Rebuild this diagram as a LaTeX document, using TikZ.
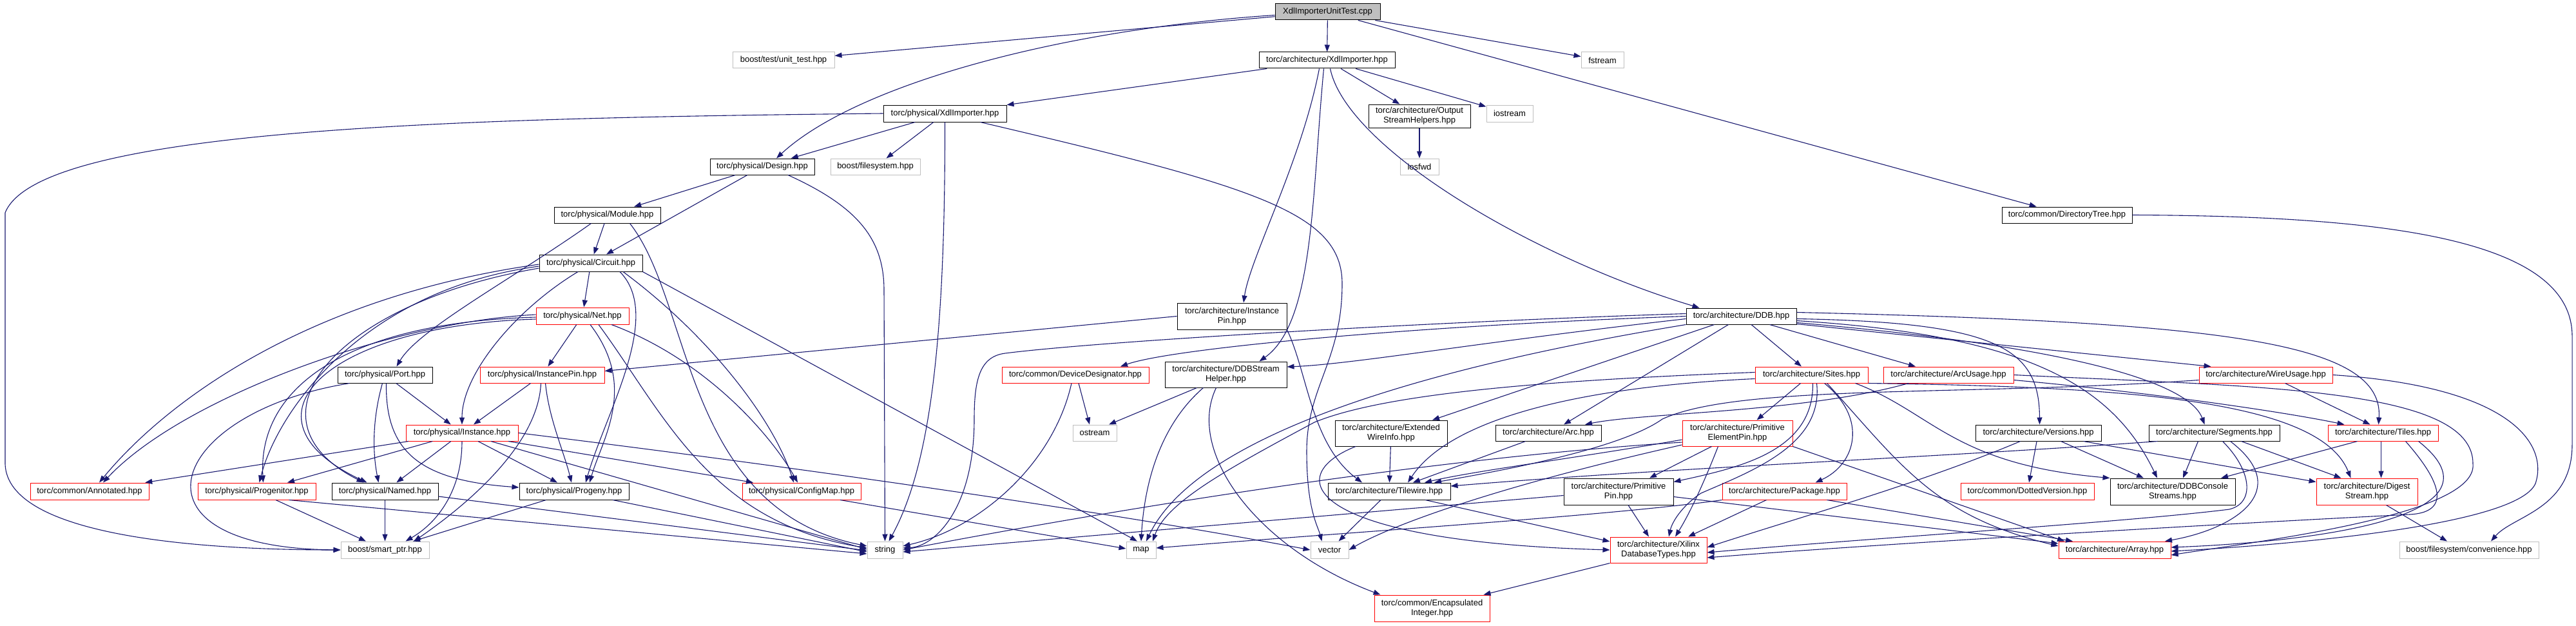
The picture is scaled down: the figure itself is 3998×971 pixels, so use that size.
\documentclass[tikz,border=0pt]{standalone}
\usepackage{fontspec}
\setmainfont{Liberation Sans}
\usetikzlibrary{arrows.meta}
\definecolor{edgec}{HTML}{191970}
\definecolor{rootfill}{HTML}{BFBFBF}
\definecolor{extc}{HTML}{BFBFBF}
\definecolor{redc}{HTML}{FF0000}
\tikzset{
  nbox/.style={rectangle, inner sep=0pt, line width=1.0pt, align=center, font=\fontsize{13}{15}\selectfont, text=black},
  bnode/.style={nbox, draw=black},
  rnode/.style={nbox, draw=redc},
  gnode/.style={nbox, draw=extc},
  rootnode/.style={nbox, draw=black, fill=rootfill},
  dep/.style={draw=edgec, line width=1.1pt, -{Triangle[length=11pt,width=8pt]}}
}
\newcommand{\mynode}[7]{\node[#6, minimum width=#4pt, minimum height=#5pt] (#1) at (#2,#3) {#7};}
\begin{document}
\begin{tikzpicture}[x=1pt,y=-1pt]
\fill[white] (0,0) rectangle (3998,971);
\useasboundingbox (0,0) rectangle (3998,971);
% nodes
\mynode{root}{2060.5}{18.5}{163}{25}{rootnode}{XdlImporterUnitTest.cpp}
\mynode{unittest}{1216}{93.5}{158}{25}{gnode}{boost/test/unit\_test.hpp}
\mynode{axdl}{2059.5}{93.5}{211}{25}{bnode}{torc/architecture/XdlImporter.hpp}
\mynode{fstream}{2487}{93.5}{66}{25}{gnode}{fstream}
\mynode{pxdl}{1466.5}{176}{191}{26}{bnode}{torc/physical/XdlImporter.hpp}
\mynode{osh}{2203}{180}{158}{36}{bnode}{torc/architecture/Output\\StreamHelpers.hpp}
\mynode{iostream}{2343}{176}{72}{26}{gnode}{iostream}
\mynode{design}{1183}{258.5}{162}{25}{bnode}{torc/physical/Design.hpp}
\mynode{bfs}{1358.5}{258.5}{139}{25}{gnode}{boost/filesystem.hpp}
\mynode{iosfwd}{2203}{258.5}{60}{25}{gnode}{iosfwd}
\mynode{module}{942.5}{333.5}{165}{25}{bnode}{torc/physical/Module.hpp}
\mynode{dirtree}{3208}{333.5}{202}{25}{bnode}{torc/common/DirectoryTree.hpp}
\mynode{circuit}{917}{408}{160}{26}{bnode}{torc/physical/Circuit.hpp}
\mynode{net}{904}{490}{144}{26}{rnode}{torc/physical/Net.hpp}
\mynode{ddb}{2702.5}{490.5}{171}{25}{bnode}{torc/architecture/DDB.hpp}
\mynode{ainstpin}{1912}{490.5}{170}{41}{bnode}{torc/architecture/Instance\\Pin.hpp}
\mynode{port}{597.5}{581.5}{147}{25}{bnode}{torc/physical/Port.hpp}
\mynode{pinstpin}{841.5}{581.5}{193}{25}{rnode}{torc/physical/InstancePin.hpp}
\mynode{devdes}{1669}{581.5}{228}{25}{rnode}{torc/common/DeviceDesignator.hpp}
\mynode{ddbsh}{1902.5}{581}{189}{40}{bnode}{torc/architecture/DDBStream\\Helper.hpp}
\mynode{sites}{2811.5}{581.5}{175}{25}{rnode}{torc/architecture/Sites.hpp}
\mynode{arcusage}{3024}{581.5}{202}{25}{rnode}{torc/architecture/ArcUsage.hpp}
\mynode{wireusage}{3516.5}{581.5}{207}{25}{rnode}{torc/architecture/WireUsage.hpp}
\mynode{instance}{717}{671.5}{174}{25}{rnode}{torc/physical/Instance.hpp}
\mynode{ostream}{1699}{671.5}{68}{25}{gnode}{ostream}
\mynode{ewi}{2159}{672}{174}{40}{bnode}{torc/architecture/Extended\\WireInfo.hpp}
\mynode{narc}{2403}{671.5}{164}{25}{bnode}{torc/architecture/Arc.hpp}
\mynode{pep}{2696.5}{672}{171}{40}{rnode}{torc/architecture/Primitive\\ElementPin.hpp}
\mynode{versions}{3163.5}{671.5}{195}{25}{bnode}{torc/architecture/Versions.hpp}
\mynode{segments}{3436.5}{671.5}{203}{25}{bnode}{torc/architecture/Segments.hpp}
\mynode{tiles}{3698.5}{671.5}{171}{25}{rnode}{torc/architecture/Tiles.hpp}
\mynode{annotated}{139}{762}{184}{26}{rnode}{torc/common/Annotated.hpp}
\mynode{progenitor}{398.5}{762}{183}{26}{rnode}{torc/physical/Progenitor.hpp}
\mynode{named}{597.5}{762}{165}{26}{bnode}{torc/physical/Named.hpp}
\mynode{progeny}{891}{762}{170}{26}{bnode}{torc/physical/Progeny.hpp}
\mynode{configmap}{1244}{762}{184}{26}{rnode}{torc/physical/ConfigMap.hpp}
\mynode{tilewire}{2156}{762}{190}{26}{bnode}{torc/architecture/Tilewire.hpp}
\mynode{ppin}{2512}{762.5}{170}{41}{bnode}{torc/architecture/Primitive\\Pin.hpp}
\mynode{package}{2769.5}{762}{193}{26}{rnode}{torc/architecture/Package.hpp}
\mynode{dotted}{3146.5}{762}{207}{26}{rnode}{torc/common/DottedVersion.hpp}
\mynode{ddbcs}{3372}{762.5}{194}{41}{bnode}{torc/architecture/DDBConsole\\Streams.hpp}
\mynode{digest}{3673.5}{762.5}{157}{41}{rnode}{torc/architecture/Digest\\Stream.hpp}
\mynode{smartptr}{597.5}{853}{137}{26}{gnode}{boost/smart\_ptr.hpp}
\mynode{nstring}{1373.5}{853}{55}{26}{gnode}{string}
\mynode{nmap}{1771}{853}{46}{26}{gnode}{map}
\mynode{nvector}{2063.5}{853}{59}{26}{gnode}{vector}
\mynode{xilinx}{2574}{853}{150}{40}{rnode}{torc/architecture/Xilinx\\DatabaseTypes.hpp}
\mynode{narray}{3282}{853}{174}{26}{rnode}{torc/architecture/Array.hpp}
\mynode{bfsconv}{3832}{853}{216}{26}{gnode}{boost/filesystem/convenience.hpp}
\mynode{encint}{2222.5}{943.5}{179}{41}{rnode}{torc/common/Encapsulated\\Integer.hpp}
% root
\draw[dep] (root) -- (unittest);
\draw[dep] ([yshift=-5pt]root.west) .. controls (1650,45) and (1330,130) .. ([xshift=22pt]design.north);
\draw[dep] (root) -- (axdl);
\draw[dep] (root) -- (fstream);
\draw[dep] (root) -- (dirtree);
% axdl
\draw[dep] (axdl) -- (pxdl);
\draw[dep] (axdl) -- (osh);
\draw[dep] (axdl) -- (iostream);
\draw[dep] ([xshift=5pt]axdl.south) .. controls (2090,230) and (2380,400) .. ([xshift=-65pt]ddb.north);
\draw[dep] ([xshift=-12pt]axdl.south) .. controls (2020,250) and (1940,400) .. ([xshift=18pt]ainstpin.north);
\draw[dep] ([xshift=-5pt]axdl.south) .. controls (2036,300) and (2040,500) .. ([xshift=52pt]ddbsh.north);
% pxdl
\draw[dep] (pxdl) -- (design);
\draw[dep] (pxdl) -- (bfs);
\draw[dep] (pxdl.south) .. controls (1467,520) and (1445,720) .. ([xshift=6pt]nstring.north);
\draw[dep] ([xshift=55pt]pxdl.south) .. controls (1950,290) and (2083,330) .. (2083,440) .. controls (2083,560) and (2028,600) .. (2028,700) .. controls (2028,790) and (2045,815) .. ([xshift=-12pt]nvector.north);
\draw[dep] (pxdl.west) .. controls (700,183) and (60,200) .. (8,330) -- (8,720) .. controls (12,830) and (300,853) .. (smartptr.west);
\draw[dep] (osh) -- (iosfwd);
% design, module
\draw[dep] (design) -- (module);
\draw[dep] (design) -- (circuit);
\draw[dep] ([xshift=40pt]design.south) .. controls (1330,320) and (1372,370) .. (1372,450) -- (nstring.north);
\draw[dep] (module) -- (circuit);
\draw[dep] ([xshift=-25pt]module.south) .. controls (800,430) and (650,510) .. ([xshift=18pt]port.north);
\draw[dep] ([xshift=35pt]module.south) .. controls (1075,470) and (1060,790) .. ([yshift=6pt]nstring.west);
% circuit
\draw[dep] (circuit) -- (net);
\draw[dep] ([xshift=-20pt]circuit.south) .. controls (800,480) and (717,580) .. (instance.north);
\draw[dep] ([yshift=-2pt]circuit.west) .. controls (480,460) and (260,620) .. ([xshift=15pt]annotated.north);
\draw[dep] ([yshift=-5pt]circuit.west) .. controls (560,450) and (430,640) .. ([xshift=4pt]progenitor.north);
\draw[dep] ([yshift=-8pt]circuit.west) .. controls (520,470) and (370,650) .. ([xshift=-33pt]named.north);
\draw[dep] ([xshift=45pt]circuit.south) .. controls (1030,490) and (940,640) .. ([xshift=18pt]progeny.north);
\draw[dep] ([xshift=50pt]circuit.south) .. controls (1100,520) and (1200,650) .. ([xshift=-12pt]configmap.north);
\draw[dep] (circuit.south east) -- ([xshift=-6pt]nmap.north);
% net
\draw[dep] ([yshift=2pt]net.west) .. controls (600,500) and (280,620) .. ([xshift=21pt]annotated.north);
\draw[dep] ([yshift=-2pt]net.west) .. controls (540,500) and (400,600) .. ([xshift=10pt]progenitor.north);
\draw[dep] ([yshift=-5pt]net.west) .. controls (500,505) and (360,650) .. ([xshift=-28pt]named.north);
\draw[dep] (net) -- (pinstpin);
\draw[dep] ([xshift=12pt]net.south) .. controls (990,600) and (935,680) .. ([xshift=24pt]progeny.north);
\draw[dep] ([xshift=45pt]net.south) .. controls (1100,560) and (1200,680) .. ([xshift=-6pt]configmap.north);
\draw[dep] ([xshift=25pt]net.south) .. controls (1030,640) and (1100,810) .. ([yshift=3pt]nstring.west);
% port
\draw[dep] (port) -- (instance);
\draw[dep] ([xshift=-4pt]port.south) .. controls (578,650) and (578,700) .. ([xshift=-10pt]named.north);
\draw[dep] ([xshift=2pt]port.south) .. controls (598,700) and (650,745) .. ([yshift=6pt]progeny.west);
\draw[dep] ([xshift=-55pt]port.south) .. controls (260,640) and (180,850) .. (smartptr.west);
% instance pin (physical)
\draw[dep] (pinstpin) -- (instance);
\draw[dep] ([xshift=5pt]pinstpin.south) .. controls (852,650) and (875,700) .. ([xshift=-4pt]progeny.north);
\draw[dep] ([xshift=-2pt]pinstpin.south) .. controls (835,700) and (700,800) .. ([xshift=45pt]smartptr.north);
% instance
\draw[dep] (instance) -- (annotated);
\draw[dep] (instance) -- (progenitor);
\draw[dep] (instance) -- (named);
\draw[dep] (instance.south) .. controls (717,760) and (680,810) .. ([xshift=32pt]smartptr.north);
\draw[dep] (instance) -- (progeny);
\draw[dep] ([xshift=45pt]instance.south) -- ([yshift=1pt]nstring.west);
\draw[dep] ([xshift=72pt]instance.south) -- ([xshift=-75pt]configmap.north);
\draw[dep] (instance.east) .. controls (1200,720) and (1700,790) .. (nvector.west);
% leaves of physical
\draw[dep] (progenitor) -- (smartptr);
\draw[dep] ([xshift=50pt]progenitor.south) -- ([yshift=-6pt]nstring.west);
\draw[dep] (named) -- (smartptr);
\draw[dep] ([yshift=-8pt]named.east) -- ([yshift=-1pt]nstring.west);
\draw[dep] (progeny) -- (smartptr);
\draw[dep] ([xshift=60pt]progeny.south) -- ([yshift=-3pt]nstring.west);
\draw[dep] ([xshift=60pt]configmap.south) -- ([yshift=2pt]nmap.west);
% device designator, stream helper, instance pin (arch)
\draw[dep] ([xshift=5pt]devdes.south) -- ([xshift=-8pt]ostream.north);
\draw[dep] ([xshift=-6pt]devdes.south) .. controls (1635,720) and (1520,820) .. ([yshift=6pt]nstring.east);
\draw[dep] ([xshift=-45pt]ddbsh.south) -- ([xshift=22pt]ostream.north);
\draw[dep] ([xshift=-35pt]ddbsh.south) .. controls (1800,660) and (1776,750) .. (nmap.north);
\draw[dep] ([xshift=-15pt]ddbsh.south) .. controls (1840,700) and (1950,850) .. ([xshift=-80pt]encint.north);
\draw[dep] (ainstpin.west) -- ([yshift=6pt]pinstpin.east);
\draw[dep] (ainstpin.south east) .. controls (2030,580) and (2035,690) .. ([xshift=-42pt]tilewire.north);
% DDB
\draw[dep] (ddb) -- (sites);
\draw[dep] ([xshift=44pt]ddb.south) -- ([xshift=-51pt]arcusage.north);
\draw[dep] (ddb.west) .. controls (2200,505) and (1820,540) .. ([xshift=70pt]devdes.north);
\draw[dep] ([yshift=-4pt]ddb.west) .. controls (2300,530) and (2100,565) .. ([yshift=12pt]ddbsh.east);
\draw[dep] ([yshift=4pt]ddb.west) .. controls (2200,500) and (1700,530) .. (1560,548) .. controls (1520,553) and (1512,590) .. (1512,650) .. controls (1512,790) and (1450,848) .. ([yshift=3pt]nstring.east);
\draw[dep] (ddb.south west) .. controls (2150,580) and (1850,690) .. ([xshift=8pt]nmap.north);
\draw[dep] ([xshift=-42pt]ddb.south) -- ([xshift=64pt]ewi.north);
\draw[dep] ([xshift=-20pt]ddb.south) -- ([xshift=24pt]narc.north);
\draw[dep] ([yshift=-4pt]ddb.east) .. controls (3100,500) and (3165,540) .. ([xshift=2pt]versions.north);
\draw[dep] ([yshift=-7pt]ddb.east) .. controls (3150,520) and (3280,600) .. ([xshift=-24pt]ddbcs.north);
\draw[dep] ([yshift=-10pt]ddb.east) .. controls (3250,540) and (3400,600) .. ([xshift=-15pt]segments.north);
\draw[dep] ([yshift=-12pt]ddb.east) -- ([xshift=-85pt]wireusage.north);
\draw[dep] ([yshift=6pt]ddb.east) .. controls (3450,500) and (3700,530) .. ([xshift=-7pt]tiles.north);
% Sites
\draw[dep] ([xshift=-17pt]sites.south) -- ([xshift=30pt]pep.north);
\draw[dep] ([yshift=-6pt]sites.west) .. controls (2450,600) and (2250,650) .. ([xshift=29pt]tilewire.north);
\draw[dep] ([yshift=4pt]sites.west) .. controls (2400,590) and (2150,610) .. (2040,655) .. controls (1900,730) and (1810,780) .. ([xshift=18pt]nmap.north);
\draw[dep] ([xshift=2pt]sites.south) .. controls (2815,700) and (2700,725) .. ([yshift=15pt]ppin.east);
\draw[dep] ([xshift=8pt]sites.south) .. controls (2830,690) and (2720,730) .. (2640,765) .. controls (2610,785) and (2595,810) .. ([xshift=16pt]xilinx.north);
\draw[dep] ([xshift=20pt]sites.south) .. controls (2900,650) and (2880,720) .. ([xshift=48pt]package.north);
\draw[dep] ([xshift=24pt]sites.south) .. controls (2950,720) and (3000,800) .. ([yshift=6pt]narray.west);
\draw[dep] ([xshift=68pt]sites.south) .. controls (3000,640) and (3030,720) .. (ddbcs.north west);
\draw[dep] (sites.south east) .. controls (3300,600) and (3600,620) .. ([xshift=-25pt]digest.north);
% PrimitiveElementPin
\draw[dep] ([yshift=-10pt]pep.west) .. controls (2450,710) and (2290,730) .. ([xshift=55pt]tilewire.north);
\draw[dep] ([xshift=-40pt]pep.south) -- ([xshift=48pt]ppin.north);
\draw[dep] ([xshift=-30pt]pep.south) .. controls (2640,760) and (2620,800) .. ([xshift=26pt]xilinx.north);
\draw[dep] (pep.south east) -- ([xshift=-78pt]narray.north);
\draw[dep] ([yshift=-14pt]pep.west) .. controls (2150,715) and (1600,815) .. (nstring.east);
\draw[dep] ([yshift=-18pt]pep.west) .. controls (2300,760) and (2150,820) .. (nvector.east);
% Extended wire info, arc, tilewire
\draw[dep] (ewi) -- (tilewire);
\draw[dep] ([xshift=-55pt]ewi.south) .. controls (1985,740) and (2030,840) .. (xilinx.west);
\draw[dep] (narc) -- (tilewire);
\draw[dep] ([xshift=-13pt]tilewire.south) -- ([xshift=14pt]nvector.north);
\draw[dep] ([xshift=56pt]tilewire.south) -- ([yshift=13pt]xilinx.west);
% PrimitivePin, package
\draw[dep] ([xshift=15pt]ppin.south) -- ([xshift=-15pt]xilinx.north);
\draw[dep] ([yshift=-8pt]ppin.east) -- ([yshift=10pt]narray.west);
\draw[dep] ([yshift=-6pt]ppin.west) -- ([yshift=-3pt]nstring.east);
\draw[dep] ([xshift=-28pt]package.south) -- ([xshift=46pt]xilinx.north);
\draw[dep] ([xshift=66pt]package.south) -- ([xshift=-65pt]narray.north);
\draw[dep] (package.south west) .. controls (2500,800) and (2100,825) .. ([yshift=3pt]nmap.east);
% Versions
\draw[dep] (versions) -- (dotted);
\draw[dep] ([xshift=35pt]versions.south) -- ([xshift=-45pt]ddbcs.north);
\draw[dep] ([xshift=70pt]versions.south) -- ([yshift=15pt]digest.west);
\draw[dep] ([xshift=-28pt]versions.south) .. controls (2980,750) and (2800,800) .. ([yshift=4pt]xilinx.east);
% Segments
\draw[dep] ([xshift=-25pt]segments.south) -- ([xshift=16pt]ddbcs.north);
\draw[dep] ([xshift=42pt]segments.south) -- ([xshift=-40pt]digest.north);
\draw[dep] ([xshift=-88pt]segments.south) .. controls (3000,710) and (2600,725) .. ([yshift=8pt]tilewire.east);
\draw[dep] ([xshift=13pt]segments.south) .. controls (3495,730) and (3500,780) .. (3460,790) .. controls (3300,810) and (2900,835) .. ([yshift=-4pt]xilinx.east);
\draw[dep] ([xshift=25pt]segments.south) .. controls (3560,760) and (3470,820) .. ([xshift=78pt]narray.north);
% Tiles
\draw[dep] ([xshift=-40pt]tiles.south) -- ([xshift=75pt]ddbcs.north);
\draw[dep] ([xshift=-3pt]tiles.south) -- ([xshift=22pt]digest.north);
\draw[dep] ([xshift=35pt]tiles.south) .. controls (3800,760) and (3795,795) .. (3740,798) .. controls (3400,815) and (2900,845) .. ([yshift=-12pt]xilinx.east);
\draw[dep] ([xshift=55pt]tiles.south) .. controls (3900,800) and (3600,840) .. ([yshift=4pt]narray.east);
% WireUsage
\draw[dep] ([xshift=30pt]wireusage.south) -- ([xshift=-20pt]tiles.north);
\draw[dep] ([yshift=-8pt]wireusage.west) .. controls (3050,615) and (2700,595) .. (2580,650) .. controls (2510,700) and (2300,735) .. ([xshift=70pt]tilewire.north);
\draw[dep] (wireusage.east) .. controls (3900,600) and (3955,690) .. (3935,750) .. controls (3905,820) and (3500,848) .. ([yshift=-2pt]narray.east);
% ArcUsage
\draw[dep] ([yshift=-8pt]arcusage.east) .. controls (3350,610) and (3550,640) .. ([xshift=-60pt]tiles.north);
\draw[dep] ([xshift=-62pt]arcusage.south) .. controls (2800,640) and (2550,640) .. ([xshift=57pt]narc.north);
\draw[dep] (arcusage.east) .. controls (3500,600) and (3840,600) .. (3838,720) .. controls (3845,800) and (3500,840) .. ([yshift=-8pt]narray.east);
% leaves
\draw[dep] ([xshift=30pt]digest.south) -- ([xshift=-34pt]bfsconv.north);
\draw[dep] (dirtree.east) .. controls (3700,335) and (3990,370) .. (3992,520) -- (3992,690) .. controls (3992,790) and (3900,800) .. ([xshift=34pt]bfsconv.north);
\draw[dep] (xilinx.south west) -- ([xshift=-10pt]encint.north east);
\end{tikzpicture}
\end{document}
